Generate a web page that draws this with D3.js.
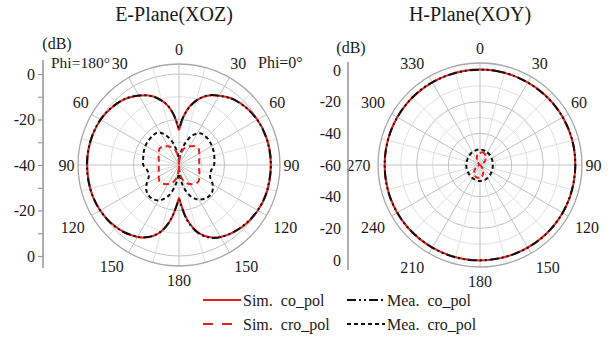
<!DOCTYPE html>
<html>
<head>
<meta charset="utf-8">
<script src="https://cdn.jsdelivr.net/npm/d3@7"></script>
<style>
  body { margin: 0; background: #fff; }
  svg { display: block; }
  svg text { font-family: "Liberation Serif", "Times New Roman", Times, serif; fill: #1a1a1a; }
</style>
</head>
<body>
<svg id="chart" width="610" height="341"></svg>
<script>
// ---------- E-plane (XOZ): theta from +z, one value per angle for each half ----------
const eAngles = [0,2,4,7,10,13,16,20,25,30,35,40,50,60,70,80,90,100,110,120,130,140,150,155,160,165,170,173,176,178,180];
const eSimCo = [-24.5,-22.8,-20.2,-16.9,-14.1,-11.9,-10.1,-8.1,-6.2,-4.8,-3.5,-2.4,-1.1,-0.2,0.2,0.4,0.4,0.4,0.4,0.0,-0.7,-1.8,-3.5,-4.8,-6.8,-9.7,-14.1,-17.6,-21.5,-23.7,-25.5];
const eMeaCoPhi0 = [-23.8,-22.3,-19.8,-17.1,-14.4,-12.0,-10.0,-8.0,-6.1,-4.9,-3.6,-2.5,-1.2,-0.3,0.1,0.3,0.4,0.3,0.3,-0.1,-0.8,-1.9,-3.4,-4.6,-6.6,-9.5,-13.8,-17.2,-21.0,-23.2,-24.8];
const eMeaCoPhi180 = [-23.8,-22.6,-20.0,-16.7,-13.9,-11.8,-10.2,-8.2,-6.3,-4.7,-3.4,-2.3,-1.0,-0.1,0.2,0.4,0.5,0.4,0.3,0.0,-0.6,-1.7,-3.6,-4.9,-6.9,-9.8,-14.3,-17.8,-21.3,-23.5,-24.8];
const eSimCro = [-40,-38.7,-37.6,-36.0,-34.7,-33.6,-32.7,-31.9,-31.2,-30.5,-29.9,-29.2,-28.8,-29.7,-30.5,-31.0,-31.0,-31.0,-30.5,-29.7,-28.8,-29.2,-30.3,-31.0,-31.9,-33.0,-34.5,-35.8,-37.4,-38.7,-40];
const eMeaCroPhi0 = [-37.8,-37.4,-36.5,-35.2,-33.4,-31.6,-29.9,-27.7,-25.5,-24.0,-23.1,-22.9,-22.9,-23.3,-23.7,-24.2,-24.6,-25.7,-25.5,-22.9,-21.1,-21.1,-22.4,-23.7,-25.5,-28.1,-31.2,-33.4,-35.6,-36.9,-37.8];
const eMeaCroPhi180 = [-37.8,-37.2,-36.2,-34.8,-33.1,-31.3,-29.5,-27.4,-25.2,-23.6,-22.8,-22.7,-22.8,-23.0,-23.5,-24.0,-24.3,-25.9,-25.9,-23.6,-21.5,-21.0,-22.0,-23.4,-25.2,-27.8,-31.0,-33.2,-35.4,-36.8,-37.8];

// ---------- H-plane (XOY): phi clockwise from top ----------
const hAngles = [0,10,20,30,40,50,60,70,80,90,100,110,120,130,140,150,160,170,180,190,200,210,220,230,240,250,260,270,280,290,300,310,320,330,340,350];
const hSimCo = [0.3,0.3,0.2,0.2,0.3,0.4,0.4,0.3,0.3,0.2,0.2,0.3,0.3,0.4,0.3,0.3,0.2,0.2,0.3,0.3,0.2,0.2,0.3,0.4,0.4,0.3,0.2,0.2,0.3,0.3,0.4,0.4,0.3,0.3,0.2,0.3];
const hMeaCo = [0.2,0.3,0.3,0.2,0.2,0.3,0.3,0.4,0.3,0.2,0.1,0.2,0.3,0.3,0.4,0.3,0.2,0.1,0.2,0.3,0.3,0.2,0.2,0.3,0.3,0.4,0.3,0.2,0.2,0.3,0.3,0.3,0.4,0.3,0.2,0.2];
const hSimCro = [-52.4,-51.8,-52.1,-53.1,-54.3,-55.9,-57.5,-58.7,-59.4,-59.7,-59.7,-59.7,-59.4,-59.1,-58.1,-56.2,-54.3,-52.7,-52.1,-51.8,-52.1,-53.1,-54.3,-55.9,-57.5,-58.7,-59.4,-59.7,-59.7,-59.7,-59.4,-59.1,-58.1,-56.2,-54.3,-52.7];
const hCroAngles = [0,30,60,90,120,150,180,210,240,270,300,330];
const hMeaCro = [-50.2,-50.8,-51.5,-51.9,-51.5,-50.5,-49.9,-50.5,-51.2,-51.3,-51.2,-50.5];

// ---------- tick labels ----------
const eAngleLabelsPhi0 = [0,30,60,90,120,150,180];
const eAngleLabelsPhi180 = [30,60,90,120,150];
const hAngleLabels = [0,30,60,90,120,150,180,210,240,270,300,330];
const eAxisTicks = [-40,-30,-20,-10,0];
const hAxisTicks = [-60,-40,-20,0];

const titles = ["E-Plane(XOZ)", "H-Plane(XOY)"];
const legendItems = [
  {label: "Sim.  co_pol", color: "#e3201b", dash: null},
  {label: "Mea.  co_pol", color: "#111", dash: "9,3,2,3,2,3"},
  {label: "Sim.  cro_pol", color: "#e3201b", dash: "10,9"},
  {label: "Mea.  cro_pol", color: "#111", dash: "4,3"}
];

const RED = "#e3201b", BLACK = "#111";
const SERIF = "'Liberation Serif', 'Times New Roman', Times, serif";
const svg = d3.select("#chart");

function panel(cfg) {
  const g = svg.append("g").attr("transform", `translate(${cfg.cx},${cfg.cy})`);
  const rScale = d3.scaleLinear().domain([cfg.min, 0]).range([0, cfg.r0]);
  const rad = v => Math.max(0, rScale(v));

  // rings every 10 dB, darker every 20 dB
  const rings = d3.range(cfg.min + 10, 1, 10);
  g.selectAll("circle.ring").data(rings).join("circle")
    .attr("r", d => rScale(d)).attr("fill", "none")
    .attr("stroke", d => (d % 20 === 0) ? "#c2c2c2" : "#e0e0e0").attr("stroke-width", 1);
  // spokes every 15 deg
  g.selectAll("line.spoke").data(d3.range(0, 360, 15)).join("line")
    .attr("x1", 0).attr("y1", 0)
    .attr("x2", d => cfg.rOut * Math.sin(d * Math.PI / 180))
    .attr("y2", d => -cfg.rOut * Math.cos(d * Math.PI / 180))
    .attr("stroke", d => (d % 30 === 0) ? "#c2c2c2" : "#e0e0e0").attr("stroke-width", 1);
  g.append("circle").attr("r", cfg.rOut).attr("fill", "none")
    .attr("stroke", "#a8a8a8").attr("stroke-width", 1.3);

  const line = d3.lineRadial()
    .angle(d => d[0] * Math.PI / 180)
    .radius(d => rad(d[1]))
    .curve(d3.curveCatmullRomClosed.alpha(0.5));

  function curve(points, color, dash) {
    g.append("path").attr("d", line(points)).attr("fill", "none")
      .attr("stroke", color).attr("stroke-width", 2)
      .attr("stroke-dasharray", dash).attr("stroke-linejoin", "round");
  }

  // angle labels sit just outside the boundary circle, pushed out by their own size
  function angleLabel(text, deg) {
    const t = g.append("text").text(text).attr("font-size", 16)
      .style("font-family", SERIF)
      .attr("text-anchor", "middle").attr("dy", "0.35em");
    const w = t.node().getComputedTextLength();
    const a = deg * Math.PI / 180;
    const ux = Math.sin(a), uy = -Math.cos(a);
    const Rc = cfg.rOut + 5.5;
    const sx = Math.abs(ux) < 1e-6 ? 0 : Math.sign(ux);
    const sy = Math.abs(uy) < 1e-6 ? 0 : Math.sign(uy);
    t.attr("x", Rc * ux + sx * (w - 10)).attr("y", Rc * uy + sy * 9);
  }
  return {g, curve, angleLabel};
}

// halves of the E-plane: Phi=0 on the right, Phi=180 mirrored on the left
function eLoop(vals0, vals180) {
  const pts = eAngles.map((a, i) => [a, vals0[i]]);
  for (let i = eAngles.length - 2; i >= 1; i--) pts.push([360 - eAngles[i], vals180[i]]);
  return pts;
}

// ---------- E-plane ----------
const E = panel({cx: 179, cy: 165, r0: 91, rOut: 101, min: -40});
eAngleLabelsPhi0.forEach(d => E.angleLabel(d, d));
eAngleLabelsPhi180.forEach(d => E.angleLabel(d, -d));
E.curve(eLoop(eMeaCroPhi0, eMeaCroPhi180), BLACK, "4,3");
E.curve(eLoop(eSimCro, eSimCro), RED, "6,4");
E.curve(eLoop(eSimCo, eSimCo), RED, null);
E.curve(eLoop(eMeaCoPhi0, eMeaCoPhi180), BLACK, "9,3,2,3,2,3");

// ---------- H-plane ----------
const Hp = panel({cx: 480, cy: 165, r0: 95, rOut: 102, min: -60});
hAngleLabels.forEach(d => Hp.angleLabel(d, d));
Hp.curve(hCroAngles.map((a, i) => [a, hMeaCro[i]]), BLACK, "4,3");
Hp.curve(hAngles.map((a, i) => [a, hSimCro[i]]), RED, "5,3");
Hp.curve(hAngles.map((a, i) => [a, hSimCo[i]]), RED, null);
Hp.curve(hAngles.map((a, i) => [a, hMeaCo[i]]), BLACK, "9,3,2,3,2,3");

// ---------- radial dB axes ----------
function dbAxis(x, cy, r0, min, ticks, withTicks, pad, lineTop, lineBottom) {
  const g = svg.append("g").attr("transform", `translate(${x},0)`);
  g.append("line").attr("x1", 0).attr("x2", 0).attr("y1", lineTop).attr("y2", lineBottom)
    .attr("stroke", "#9a9a9a").attr("stroke-width", 1.6);
  const up = d3.scaleLinear().domain([min, 0]).range([cy, cy - r0]);
  const down = d3.scaleLinear().domain([min, 0]).range([cy, cy + r0]);
  const fmt = d => (d % 20 === 0) ? String(d) : "";
  [[up, ticks], [down, ticks.filter(d => d !== min)]].forEach(([s, tv]) => {
    const ax = g.append("g").call(d3.axisLeft(s).tickValues(tv).tickFormat(fmt)
      .tickSize(withTicks ? 5 : 0).tickPadding(pad).tickSizeOuter(0));
    ax.attr("font-family", null);
    ax.select(".domain").remove();
    ax.selectAll(".tick line").attr("stroke", "#9a9a9a").attr("stroke-width", 1.2);
    ax.selectAll(".tick text").attr("font-size", 16).style("font-family", SERIF).attr("fill", "#1a1a1a");
  });
}
dbAxis(43, 165, 91, -40, eAxisTicks, true, 3, 60, 268);
dbAxis(348, 165, 95, -60, hAxisTicks, false, 7, 62, 270);

// ---------- titles and notes ----------
function note(x, y, size, anchor, str) {
  svg.append("text").attr("x", x).attr("y", y).attr("text-anchor", anchor)
    .attr("font-size", size).style("font-family", SERIF).text(str);
}
note(174, 21, 20, "middle", titles[0]);
note(470, 21, 20, "middle", titles[1]);
note(57, 49, 16, "middle", "(dB)");
note(351, 53, 16, "middle", "(dB)");
note(51, 68, 15.5, "start", "Phi=180°");
note(258, 68, 16, "start", "Phi=0°");

// ---------- legend ----------
const legend = svg.append("g");
const cols = [203, 347], rows = [300, 324];
legendItems.forEach((d, i) => {
  const x = cols[i % 2], y = rows[Math.floor(i / 2)];
  legend.append("line").attr("x1", x).attr("x2", x + 38).attr("y1", y).attr("y2", y)
    .attr("stroke", d.color).attr("stroke-width", 2).attr("stroke-dasharray", d.dash);
  legend.append("text").attr("x", x + 40).attr("y", y).attr("dy", "0.35em")
    .attr("font-size", 16).style("font-family", SERIF).style("white-space", "pre").text(d.label);
});
</script>
</body>
</html>
